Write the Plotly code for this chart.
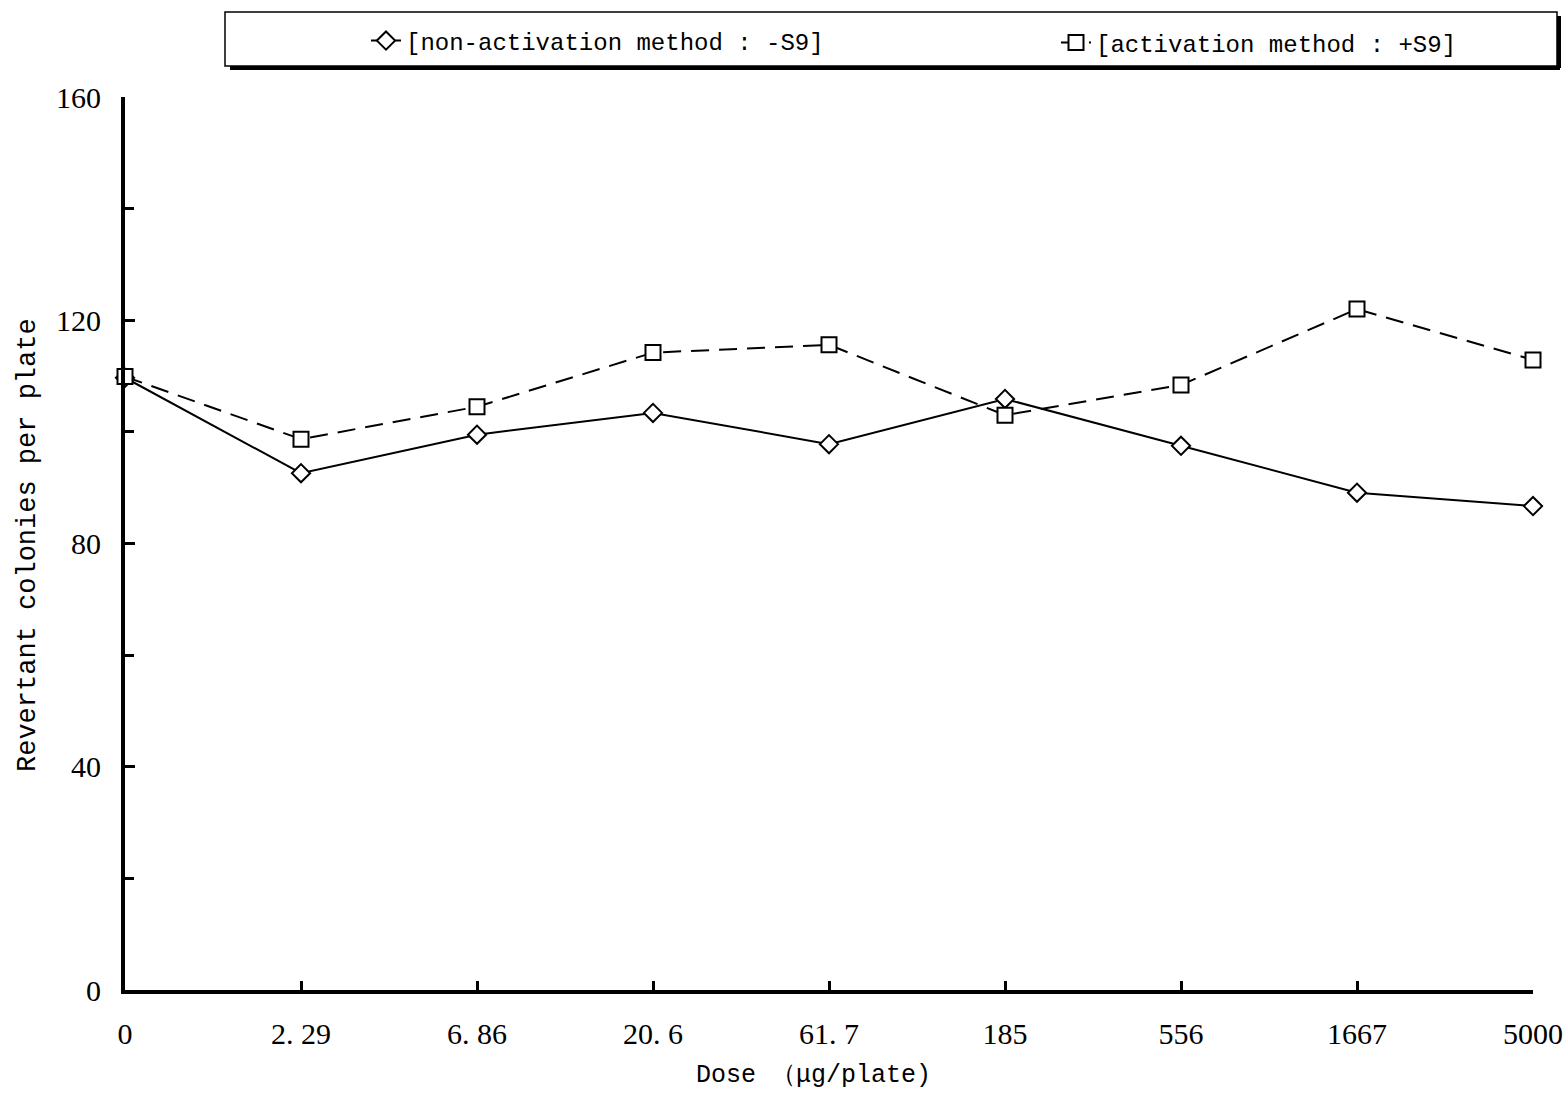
import plotly.graph_objects as go

doses = ["0", "2. 29", "6. 86", "20. 6", "61. 7", "185", "556", "1667", "5000"]
minus_s9 = [109.7, 92.6, 99.5, 103.4, 97.8, 105.9, 97.5, 89.1, 86.7]
plus_s9 = [109.9, 98.7, 104.5, 114.2, 115.6, 103.0, 108.4, 122.0, 112.9]
y_major = [0, 40, 80, 120, 160]

name_minus = "[non-activation method : -S9]"
name_plus = "[activation method : +S9]"

W, H = 1568, 1093
L, R, T, B = 125, 35, 97, 103
pw, ph = W - L - R, H - T - B

def px(x):
    return (x - L) / pw

def py(y):
    return (H - B - y) / ph

xs = list(range(len(doses)))

fig = go.Figure()
fig.add_trace(go.Scatter(
    x=xs, y=minus_s9, name=name_minus, mode="lines+markers",
    line=dict(color="black", width=2),
    marker=dict(symbol="diamond", size=14, color="white", line=dict(color="black", width=2)),
    cliponaxis=False, legend="legend",
))
fig.add_trace(go.Scatter(
    x=xs, y=plus_s9, name=name_plus, mode="lines+markers",
    line=dict(color="black", width=2, dash="18px,10px"),
    marker=dict(symbol="square", size=15, color="white", line=dict(color="black", width=2)),
    cliponaxis=False, legend="legend2",
))

tick_font = dict(family="Liberation Serif", size=30, color="black")
mono = "Liberation Mono"

fig.update_xaxes(
    range=[0, len(doses) - 1], tickvals=xs, ticktext=doses,
    showline=True, linecolor="black", linewidth=4,
    ticks="inside", ticklen=9, tickwidth=3, tickcolor="black",
    showgrid=False, zeroline=False, tickfont=tick_font, ticklabelstandoff=14,
)
fig.update_yaxes(
    range=[0, 160], tickvals=y_major,
    showline=True, linecolor="black", linewidth=4,
    ticks="inside", ticklen=10, tickwidth=3, tickcolor="black",
    minor=dict(dtick=20, ticks="inside", ticklen=9, tickwidth=3, tickcolor="black", showgrid=False),
    showgrid=False, zeroline=False, tickfont=tick_font, ticklabelstandoff=14,
)

# legend box with shadow
fig.add_shape(type="rect", xref="paper", yref="paper",
              x0=px(225), x1=px(1557), y0=py(66), y1=py(12),
              line=dict(color="black", width=1.5), fillcolor="white", layer="below")
fig.add_shape(type="line", xref="paper", yref="paper",
              x0=px(230), x1=px(1560), y0=py(68), y1=py(68),
              line=dict(color="black", width=4))
fig.add_shape(type="line", xref="paper", yref="paper",
              x0=px(1559), x1=px(1559), y0=py(68), y1=py(16),
              line=dict(color="black", width=4))

fig.add_annotation(text="Revertant colonies per plate", xref="paper", yref="paper",
                   x=px(28), y=py(545), textangle=-90, showarrow=False,
                   xanchor="center", yanchor="middle",
                   font=dict(family=mono, size=27, color="black"))
fig.add_annotation(text="Dose （μg/plate)", xref="paper", yref="paper",
                   x=px(813), y=py(1075), showarrow=False,
                   xanchor="center", yanchor="middle",
                   font=dict(family=mono, size=25, color="black"))

leg_common = dict(
    orientation="h", xanchor="left", yanchor="middle",
    bgcolor="rgba(0,0,0,0)", borderwidth=0,
    font=dict(family=mono, size=24, color="black"),
)
fig.update_layout(
    width=W, height=H,
    margin=dict(l=L, r=R, t=T, b=B, autoexpand=False),
    paper_bgcolor="white", plot_bgcolor="white",
    showlegend=True,
    legend=dict(x=px(366), y=py(41), **leg_common),
    legend2=dict(x=px(1056), y=py(43), **leg_common),
)

fig.write_html(
    "out.html",
    config={"displayModeBar": False},
    post_script="document.body.style.margin='0';document.body.style.overflow='hidden';",
)
